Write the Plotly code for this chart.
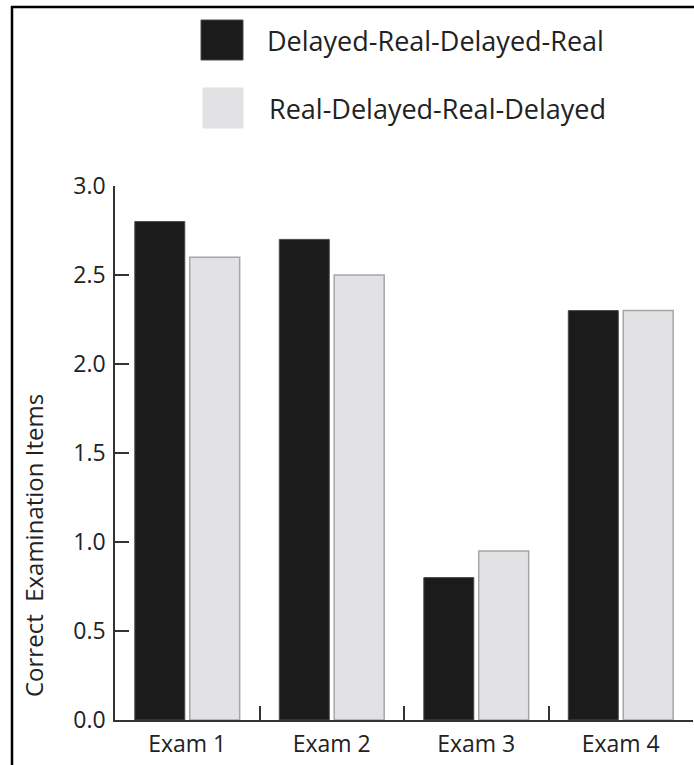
import plotly.graph_objects as go

categories = ["Exam 1", "Exam 2", "Exam 3", "Exam 4"]
series_names = ["Delayed-Real-Delayed-Real", "Real-Delayed-Real-Delayed"]
delayed_real = [2.8, 2.7, 0.8, 2.3]
real_delayed = [2.6, 2.5, 0.95, 2.3]
y_ticks = [0.0, 0.5, 1.0, 1.5, 2.0, 2.5, 3.0]
y_title = "Correct  Examination Items"

FONT = "Open Sans"
TXT = "#222222"
DARK = "#1b1b1b"
LIGHT = "#e2e1e3"

W, H = 694, 765
L, R, T, B = 115, 1, 186, 45
PW, PH = W - L - R, H - T - B


def px(x):
    return (x - L) / PW


def py(y):
    return (H - B - y) / PH


fig = go.Figure()
fig.add_trace(go.Bar(x=categories, y=delayed_real, name=series_names[0],
                     marker=dict(color=DARK, line=dict(color="#4a4a4a", width=1)),
                     showlegend=False))
fig.add_trace(go.Bar(x=categories, y=real_delayed, name=series_names[1],
                     marker=dict(color=LIGHT, line=dict(color="#a6a6a6", width=1.5)),
                     showlegend=False))

shapes = [
    # frame
    dict(type="line", xref="paper", yref="paper", x0=px(12), x1=px(12), y0=py(6), y1=py(H + 5),
         line=dict(color="black", width=2.5)),
    dict(type="line", xref="paper", yref="paper", x0=px(11), x1=px(W + 5), y0=py(7), y1=py(7),
         line=dict(color="black", width=2.5)),
    # legend swatches
    dict(type="rect", xref="paper", yref="paper", x0=px(201), x1=px(243), y0=py(60), y1=py(20),
         fillcolor=DARK, line=dict(color="#4a4a4a", width=1)),
    dict(type="rect", xref="paper", yref="paper", x0=px(203), x1=px(243), y0=py(128), y1=py(88),
         fillcolor=LIGHT, line=dict(color=LIGHT, width=1)),
]

annotations = [
    dict(text=series_names[0], xref="paper", yref="paper", x=px(265), y=py(40),
         xanchor="left", yanchor="middle", showarrow=False, font=dict(family=FONT, size=27, color=TXT)),
    dict(text=series_names[1], xref="paper", yref="paper", x=px(267), y=py(108),
         xanchor="left", yanchor="middle", showarrow=False, font=dict(family=FONT, size=27, color=TXT)),
    dict(text=y_title, xref="paper", yref="paper", x=px(33), y=py(546), textangle=-90,
         xanchor="center", yanchor="middle", showarrow=False, font=dict(family=FONT, size=24, color=TXT)),
]

fig.update_layout(
    width=W, height=H,
    margin=dict(l=L, r=R, t=T, b=B),
    paper_bgcolor="white", plot_bgcolor="white",
    barmode="group", bargap=0.24, bargroupgap=0.09,
    shapes=shapes, annotations=annotations,
    font=dict(family=FONT, color=TXT),
)
fig.update_xaxes(
    range=[-0.5, 3.5], showline=True, linecolor="#333333", linewidth=1.5,
    ticks="inside", tickson="boundaries", ticklen=14, tickcolor="#333333", tickwidth=1.5,
    showgrid=False, tickfont=dict(family=FONT, size=23, color=TXT), ticklabelstandoff=3,
)
fig.update_yaxes(
    range=[0, 3], tickvals=y_ticks, tickformat=".1f", showline=True, linecolor="#333333", linewidth=1.5,
    ticks="inside", ticklen=14, tickcolor="#333333", tickwidth=1.5,
    showgrid=False, zeroline=False, tickfont=dict(family=FONT, size=23, color=TXT), ticklabelstandoff=3,
)

fig.write_html("out.html", config={"displayModeBar": False},
               post_script="document.body.style.margin='0';document.body.style.overflow='hidden';")
